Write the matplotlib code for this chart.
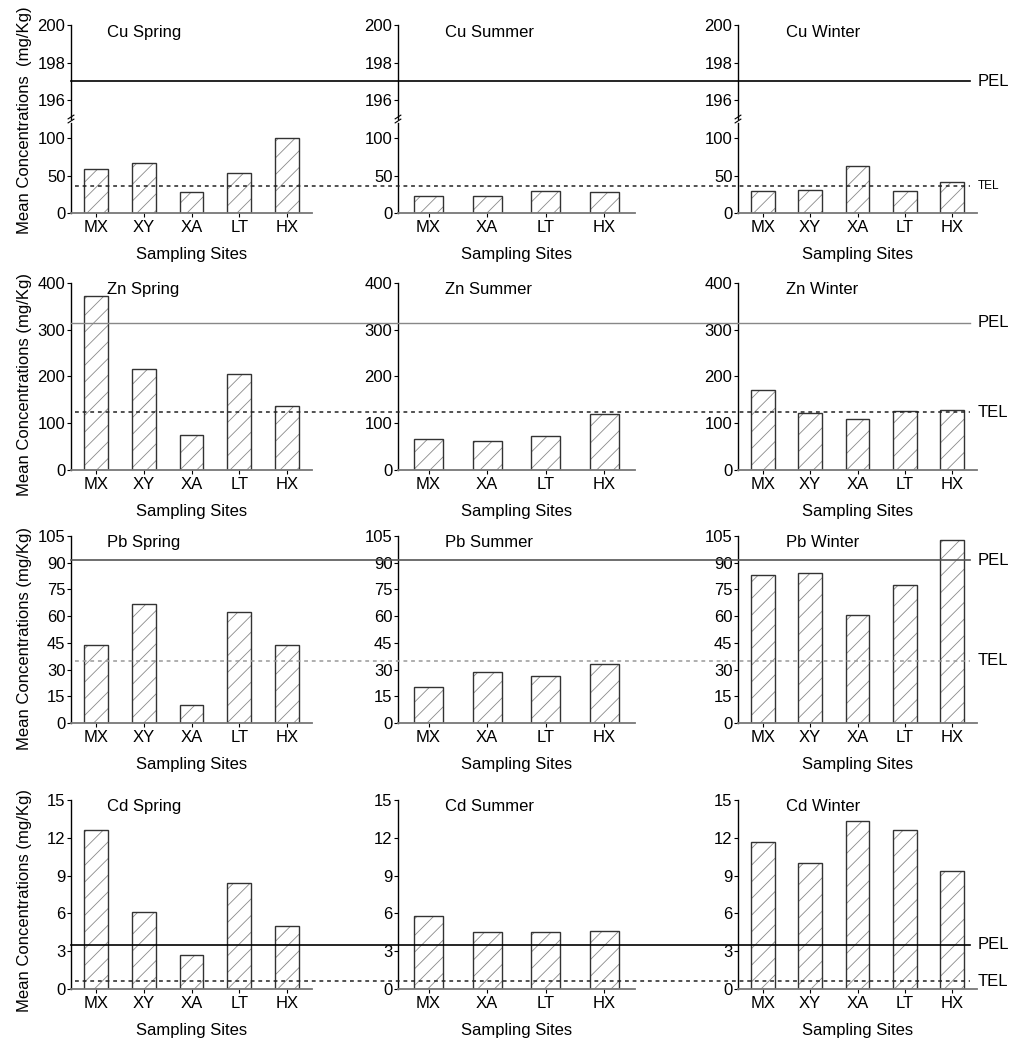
import numpy as np
import matplotlib
matplotlib.use("Agg")
import matplotlib.pyplot as plt
from matplotlib.lines import Line2D
from matplotlib import transforms

plt.rcParams['font.family'] = ['Liberation Sans', 'DejaVu Sans']
plt.rcParams['hatch.linewidth'] = 0.6

# 数据
sites5 = ['MX', 'XY', 'XA', 'LT', 'HX']
sites4 = ['MX', 'XA', 'LT', 'HX']
seasons = ['Spring', 'Summer', 'Winter']
metals = ['Cu', 'Zn', 'Pb', 'Cd']

cu_spring = [59, 67, 28, 53, 100]
cu_summer = [23, 23, 29, 28]
cu_winter = [30, 31, 63, 30, 41]
zn_spring = [373, 217, 75, 205, 136]
zn_summer = [66, 61, 73, 120]
zn_winter = [172, 122, 110, 127, 129]
pb_spring = [44, 67, 10.2, 62.6, 44]
pb_summer = [20.4, 28.4, 26.6, 33]
pb_winter = [83, 84, 60.6, 77.3, 103]
cd_spring = [12.6, 6.1, 2.7, 8.4, 5.0]
cd_summer = [5.8, 4.5, 4.5, 4.6]
cd_winter = [11.7, 10.0, 13.3, 12.6, 9.35]

tel_values = [35.7, 123, 35.0, 0.596]
pel_values = [197, 315, 91.3, 3.53]

data = [[cu_spring, cu_summer, cu_winter],
        [zn_spring, zn_summer, zn_winter],
        [pb_spring, pb_summer, pb_winter],
        [cd_spring, cd_summer, cd_winter]]
site_lists = [sites5, sites4, sites5]

y_limits = [(0, 120), (0, 400), (0, 105), (0, 15)]
y_ticks = [[0, 50, 100], np.arange(0, 401, 100), np.arange(0, 106, 15), np.arange(0, 16, 3)]

W, H = 1024, 1051
fig = plt.figure(figsize=(W / 100, H / 100), dpi=100)

cols_px = [(71, 312), (398, 635), (738, 977)]
rows_px = [(123, 213), (283, 470), (536, 723), (800, 989)]
cu_top_px = (25, 119)
ylabel_y = [120, 385, 639, 900]

pel_style = [('black', 1.2), ('#888888', 1.0), ('#555555', 1.2), ('black', 1.2)]
tel_color = ['#222222', '#222222', '#999999', '#222222']

FS = 12


def px_rect(x0, x1, y0, y1):
    return [x0 / W, 1 - y1 / H, (x1 - x0) / W, (y1 - y0) / H]


def style_axis(ax):
    ax.spines['top'].set_visible(False)
    ax.spines['right'].set_visible(False)
    ax.spines['bottom'].set_color('#777777')
    ax.spines['bottom'].set_linewidth(1.3)
    ax.spines['left'].set_linewidth(1.0)
    ax.tick_params(axis='y', length=3, width=0.8, pad=1, labelsize=FS)
    ax.tick_params(axis='x', length=3, width=0.8, pad=2, labelsize=FS)


def draw_bars(ax, sites, vals):
    x = np.arange(len(sites))
    ax.bar(x, vals, width=0.5, color='white', edgecolor='#8a8a8a',
           hatch='//', linewidth=0)
    ax.bar(x, vals, width=0.5, fill=False, edgecolor='#333333', linewidth=1.0)
    ax.set_xticks(x)
    ax.set_xticklabels(sites)
    ax.set_xlim(-0.52, len(sites) - 0.48)


row_axes = []
for r in range(4):
    axes_this_row = []
    for c in range(3):
        x0, x1 = cols_px[c]
        y0, y1 = rows_px[r]
        ax = fig.add_axes(px_rect(x0, x1, y0, y1))
        style_axis(ax)
        draw_bars(ax, site_lists[c], data[r][c])
        ax.set_ylim(*y_limits[r])
        ax.set_yticks(y_ticks[r])
        ax.set_xlabel('Sampling Sites', fontsize=FS, labelpad=9)
        title = metals[r] + ' ' + seasons[c]
        tx = 0.15 if c == 0 else 0.2
        if r == 0:
            # 断轴的上半部分
            axt = fig.add_axes(px_rect(x0, x1, cu_top_px[0], cu_top_px[1]))
            style_axis(axt)
            axt.spines['bottom'].set_visible(False)
            axt.set_xlim(ax.get_xlim())
            axt.set_xticks([])
            axt.set_ylim(195, 200)
            axt.set_yticks([196, 198, 200])
            axt.annotate(title, xy=(tx, 1), xycoords='axes fraction',
                         xytext=(0, -5.5), textcoords='offset points',
                         va='center', fontsize=FS)
            # 断轴标记
            for dy in (-2, 2):
                axt.add_line(Line2D([-0.012, 0.012], [dy / 94 - 0.02, dy / 94 + 0.02],
                                    transform=axt.transAxes, color='black',
                                    lw=0.8, clip_on=False))
            axes_this_row.append((axt, ax))
        else:
            ax.annotate(title, xy=(tx, 1), xycoords='axes fraction',
                        xytext=(0, -4.5), textcoords='offset points',
                        va='center', fontsize=FS)
            axes_this_row.append((ax, ax))
    row_axes.append(axes_this_row)

# PEL / TEL 横线贯穿整行
x_start = 71 / W
x_end = 970 / W
for r in range(4):
    pel_ax = row_axes[r][0][0]
    tel_ax = row_axes[r][0][1]
    tr_pel = transforms.blended_transform_factory(fig.transFigure, pel_ax.transData)
    tr_tel = transforms.blended_transform_factory(fig.transFigure, tel_ax.transData)
    pc, plw = pel_style[r]
    fig.add_artist(Line2D([x_start, x_end], [pel_values[r]] * 2, transform=tr_pel,
                          color=pc, lw=plw))
    fig.add_artist(Line2D([x_start + 4 / W, x_end], [tel_values[r]] * 2, transform=tr_tel,
                          color=tel_color[r], lw=1.1, linestyle=(0, (2.5, 2.5))))
    fig.text(978 / W, 0, 'PEL', transform=tr_pel, va='center', fontsize=FS)
    fig.text(978 / W, 0, 'TEL', transform=tr_tel, va='center',
             fontsize=8.5 if r == 0 else FS)
    # 让文字的y坐标落在阈值上
    fig.texts[-2].set_y(pel_values[r])
    fig.texts[-1].set_y(tel_values[r])

for r in range(4):
    label = 'Mean Concentrations  (mg/Kg)' if r == 0 else 'Mean Concentrations (mg/Kg)'
    fig.text(25 / W, 1 - ylabel_y[r] / H, label, rotation=90, ha='center',
             va='center', fontsize=FS)

fig.savefig('out.png', dpi=100)
